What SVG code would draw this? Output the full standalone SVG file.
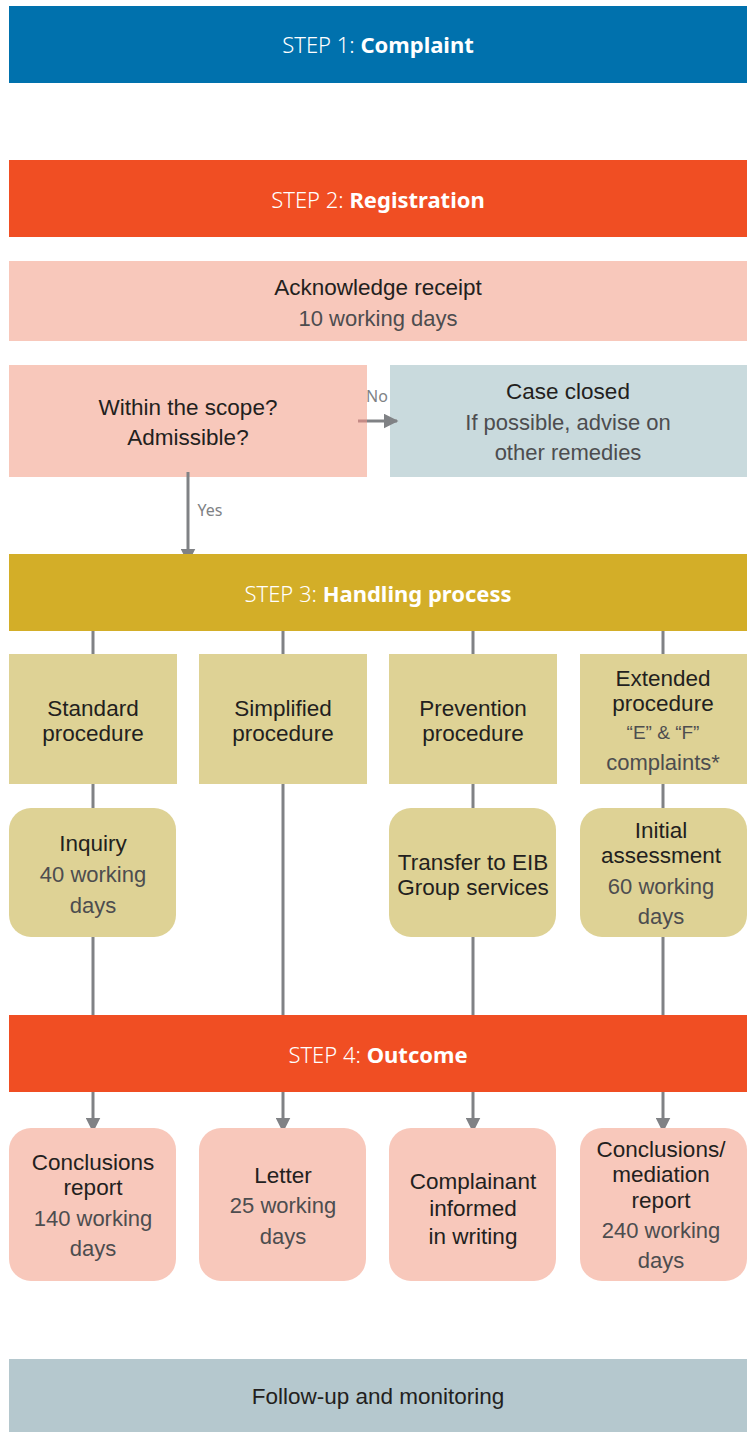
<svg xmlns="http://www.w3.org/2000/svg" width="750" height="1434" viewBox="0 0 750 1434">
<style>
text{font-family:"Liberation Sans","Noto Sans",Arial,sans-serif;text-anchor:middle;}
.hd{font-family:"Noto Sans","Open Sans","Liberation Sans",sans-serif;font-size:22px;fill:#ffffff;font-weight:300;}
.hd tspan.b{font-weight:700;}
.t{font-size:22.5px;fill:#231f20;}
.s{font-size:22px;fill:#4d4d4f;}
.q{font-size:19px;}
.lbl{font-family:"Noto Sans","Liberation Sans",sans-serif;font-size:16px;fill:#808285;}
.ln{stroke:#808285;stroke-width:3;fill:none;}
</style>
<defs>
<marker id="ah" viewBox="0 0 10 10" refX="9" refY="5" markerWidth="5" markerHeight="5" markerUnits="strokeWidth" orient="auto">
<path d="M0,0 L10,5 L0,10 z" fill="#808285"/>
</marker>
</defs>
<g id="connectors">
<line class="ln" x1="93" y1="631" x2="93" y2="1015"/>
<line class="ln" x1="283" y1="631" x2="283" y2="1015"/>
<line class="ln" x1="473" y1="631" x2="473" y2="1015"/>
<line class="ln" x1="663" y1="631" x2="663" y2="1015"/>
<line class="ln" x1="93" y1="1092" x2="93" y2="1131" marker-end="url(#ah)"/>
<line class="ln" x1="283" y1="1092" x2="283" y2="1131" marker-end="url(#ah)"/>
<line class="ln" x1="473" y1="1092" x2="473" y2="1131" marker-end="url(#ah)"/>
<line class="ln" x1="663" y1="1092" x2="663" y2="1131" marker-end="url(#ah)"/>
</g>
<g id="step1"><rect x="9" y="6" width="738" height="77" fill="#0071ad"/><text class="hd" x="378" y="53">STEP 1: <tspan class="b">Complaint</tspan></text></g>
<g id="step2"><rect x="9" y="160" width="738" height="77" fill="#f04e23"/><text class="hd" x="378" y="208">STEP 2: <tspan class="b">Registration</tspan></text></g>
<g id="ack"><rect x="9" y="261" width="738" height="80" fill="#f8c8bb"/><text class="t" x="378" y="295">Acknowledge receipt</text><text class="s" x="378" y="326">10 working days</text></g>
<g id="scope"><rect x="9" y="365" width="358" height="112" fill="#f8c8bb"/><text class="t" x="188" y="415">Within the scope?</text><text class="t" x="188" y="445">Admissible?</text></g>
<g id="closed"><rect x="390" y="365" width="357" height="112" fill="#c9dadd"/><text class="t" x="568" y="399">Case closed</text><text class="s" x="568" y="430">If possible, advise on</text><text class="s" x="568" y="460">other remedies</text></g>
<g id="decision-connectors">
<line x1="358" y1="421" x2="367" y2="421" stroke="#c48a85" stroke-width="3"/>
<line class="ln" x1="367" y1="421" x2="397" y2="421" marker-end="url(#ah)"/>
<text class="lbl" x="377" y="402">No</text>
<line class="ln" x1="188" y1="472" x2="188" y2="562" marker-end="url(#ah)"/>
<text class="lbl" x="210" y="516">Yes</text>
</g>
<g id="step3"><rect x="9" y="554" width="738" height="77" fill="#d3ae28"/><text class="hd" x="378" y="602">STEP 3: <tspan class="b">Handling process</tspan></text></g>
<g id="standard"><rect x="9" y="654" width="168" height="130" fill="#ded295"/><text class="t" x="93" y="716">Standard</text><text class="t" x="93" y="741">procedure</text></g>
<g id="simplified"><rect x="199" y="654" width="168" height="130" fill="#ded295"/><text class="t" x="283" y="716">Simplified</text><text class="t" x="283" y="741">procedure</text></g>
<g id="prevention"><rect x="389" y="654" width="168" height="130" fill="#ded295"/><text class="t" x="473" y="716">Prevention</text><text class="t" x="473" y="741">procedure</text></g>
<g id="extended"><rect x="580" y="654" width="167" height="130" fill="#ded295"/><text class="t" x="663" y="686">Extended</text><text class="t" x="663" y="711">procedure</text><text class="s q" x="663" y="739">“E” &amp; “F”</text><text class="s" x="663" y="770">complaints*</text></g>
<g id="inquiry"><rect x="9" y="808" width="167" height="129" rx="22" fill="#ded295"/><text class="t" x="93" y="851">Inquiry</text><text class="s" x="93" y="882">40 working</text><text class="s" x="93" y="913">days</text></g>
<g id="transfer"><rect x="389" y="808" width="167" height="129" rx="22" fill="#ded295"/><text class="t" x="473" y="870">Transfer to EIB</text><text class="t" x="473" y="895">Group services</text></g>
<g id="initial"><rect x="580" y="808" width="167" height="129" rx="22" fill="#ded295"/><text class="t" x="661" y="838">Initial</text><text class="t" x="661" y="863">assessment</text><text class="s" x="661" y="894">60 working</text><text class="s" x="661" y="924">days</text></g>
<g id="step4"><rect x="9" y="1015" width="738" height="77" fill="#f04e23"/><text class="hd" x="378" y="1063">STEP 4: <tspan class="b">Outcome</tspan></text></g>
<g id="conclusions"><rect x="9" y="1128" width="167" height="153" rx="22" fill="#f8c8bb"/><text class="t" x="93" y="1170">Conclusions</text><text class="t" x="93" y="1195">report</text><text class="s" x="93" y="1226">140 working</text><text class="s" x="93" y="1256">days</text></g>
<g id="letter"><rect x="199" y="1128" width="167" height="153" rx="22" fill="#f8c8bb"/><text class="t" x="283" y="1183">Letter</text><text class="s" x="283" y="1213">25 working</text><text class="s" x="283" y="1244">days</text></g>
<g id="complainant"><rect x="389" y="1128" width="167" height="153" rx="22" fill="#f8c8bb"/><text class="t" x="473" y="1189">Complainant</text><text class="t" x="473" y="1216">informed</text><text class="t" x="473" y="1244">in writing</text></g>
<g id="mediation"><rect x="580" y="1128" width="167" height="153" rx="22" fill="#f8c8bb"/><text class="t" x="661" y="1157">Conclusions/</text><text class="t" x="661" y="1182">mediation</text><text class="t" x="661" y="1208">report</text><text class="s" x="661" y="1238">240 working</text><text class="s" x="661" y="1268">days</text></g>
<g id="followup"><rect x="9" y="1359" width="738" height="73" fill="#b5c8ce"/><text class="t" x="378" y="1404">Follow-up and monitoring</text></g>
</svg>
